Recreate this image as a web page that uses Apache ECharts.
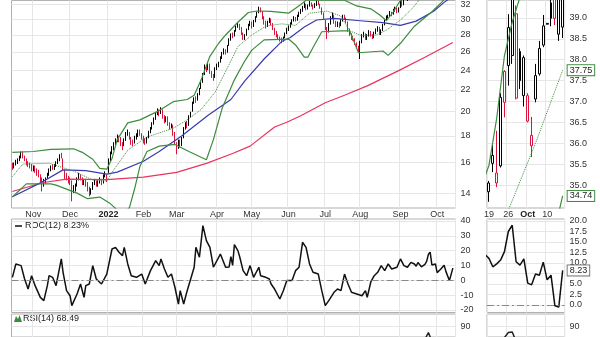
<!DOCTYPE html>
<html><head><meta charset="utf-8">
<script src="https://cdn.jsdelivr.net/npm/echarts@6/dist/echarts.min.js"></script>
<style>html,body{margin:0;padding:0;background:#fff}#c{width:600px;height:337px}</style>
</head><body><div id="c"></div>
<script>
// ---------- trading calendar ----------
const marketHolidays = ['2021-11-25','2021-12-24','2022-01-17','2022-02-21','2022-04-15','2022-05-30','2022-06-20','2022-07-04','2022-09-05'];
function buildDates(){const out=[];let t=Date.UTC(2021,9,14);const end=Date.UTC(2022,9,14);
  while(t<=end){const d=new Date(t);const wd=d.getUTCDay();const s=d.toISOString().slice(0,10);
    if(wd!==0&&wd!==6&&marketHolidays.indexOf(s)<0)out.push(s);t+=86400000;}return out;}
const dates = buildDates();
const monthNames = ['Jan','Feb','Mar','Apr','May','Jun','Jul','Aug','Sep','Oct','Nov','Dec'];

// ---------- price data: [open, close, low, high] ----------
const candles = [
[15.9,15.7,15.5,16.0],[15.7,15.9,15.6,16.0],[15.9,16.1,15.8,16.2],[16.0,16.2,15.9,16.3],[16.2,16.3,16.1,16.5],
[16.6,16.5,16.3,16.8],[16.7,16.4,16.3,16.8],[16.4,16.2,16.1,16.5],[16.1,16.0,15.8,16.3],[15.8,15.9,15.7,16.1],
[15.9,15.8,15.6,16.0],[15.7,15.6,15.4,15.9],[15.5,15.7,15.4,15.8],[15.7,15.5,15.3,15.8],[15.3,15.4,15.1,15.6],
[15.4,15.1,15.0,15.5],[15.0,14.9,14.7,15.2],[14.9,14.6,14.1,15.0],[14.5,14.7,14.4,14.9],[14.7,14.9,14.6,15.0],
[15.0,15.2,14.9,15.3],[15.2,15.5,15.1,15.6],[15.5,15.7,15.4,15.8],[15.8,15.6,15.5,15.9],[15.6,15.8,15.5,15.9],
[15.8,16.0,15.7,16.1],[16.0,16.2,15.9,16.3],[16.2,16.5,16.1,16.6],[16.6,16.4,16.3,16.7],[16.2,15.6,15.5,16.3],
[15.4,15.1,14.9,15.5],[15.2,14.9,14.8,15.3],[15.0,14.8,14.6,15.1],[14.9,14.6,14.5,15.0],[14.7,14.2,13.5,14.8],
[14.2,14.3,14.0,14.5],[14.3,14.4,14.1,14.6],[14.5,14.9,14.4,15.0],[14.9,15.1,14.8,15.3],[15.1,15.0,14.8,15.2],
[14.9,14.7,14.5,15.0],[14.6,14.8,14.5,14.9],[14.8,14.6,14.4,14.9],[14.6,14.3,14.1,14.7],[14.3,14.0,13.8,14.4],
[14.1,14.2,13.9,14.3],[14.3,14.6,14.2,14.7],[14.6,14.7,14.5,14.9],[14.7,14.5,14.4,14.8],[14.5,14.7,14.4,14.8],
[14.7,14.8,14.6,15.0],[14.8,14.6,14.5,14.9],[14.7,15.1,14.6,15.2],[15.1,15.3,15.0,15.4],[14.9,15.0,14.7,15.2],
[15.4,16.2,15.3,16.3],[16.2,16.7,16.1,16.8],[16.8,17.0,16.6,17.2],[17.0,17.3,16.9,17.5],[17.3,17.6,17.2,17.8],
[17.7,17.9,17.5,18.1],[17.9,17.7,17.5,18.0],[17.8,17.4,17.2,17.9],[17.3,17.2,16.9,17.5],[17.3,17.6,17.2,17.8],
[17.7,18.2,17.6,18.3],[18.2,18.3,18.0,18.5],[18.2,17.8,17.7,18.3],[17.8,17.5,17.3,17.9],[17.5,17.4,17.2,17.7],
[17.5,17.9,17.4,18.0],[17.9,18.0,17.7,18.2],[18.0,18.3,17.9,18.5],[18.4,18.2,18.0,18.5],[18.1,17.9,17.7,18.2],
[17.9,17.6,17.4,18.0],[17.7,17.5,17.3,17.8],[17.5,17.8,17.4,17.9],[17.9,18.3,17.8,18.4],[18.3,18.6,18.2,18.7],
[18.7,19.0,18.5,19.1],[19.0,19.4,18.9,19.5],[19.4,19.8,19.3,19.9],[19.8,20.1,19.7,20.3],[20.1,19.8,19.6,20.2],
[19.9,20.2,19.8,20.4],[20.1,19.6,19.4,20.2],[19.6,19.2,19.0,19.7],[19.2,19.5,19.1,19.6],[19.5,19.0,18.8,19.6],
[19.0,18.7,18.5,19.1],[18.7,18.9,18.6,19.0],[18.8,18.2,18.0,18.9],[18.2,17.5,17.3,18.3],[17.4,17.0,16.6,17.5],
[17.1,17.6,17.0,17.7],[17.5,17.3,17.1,17.7],[17.3,17.8,17.2,17.9],[17.9,18.6,17.8,18.7],[18.6,19.0,18.5,19.1],
[19.1,18.8,18.6,19.2],[18.9,19.6,18.8,19.7],[19.6,19.9,19.5,20.0],[20.1,20.8,20.0,20.9],[20.8,21.2,20.7,21.3],
[21.2,21.0,20.8,21.4],[21.1,21.6,21.0,21.7],[21.6,22.0,21.5,22.2],[22.2,22.8,22.1,22.9],[22.8,23.6,22.7,23.7],
[23.6,24.3,23.5,24.6],[24.4,24.0,23.8,24.5],[24.1,24.5,24.0,24.9],[24.6,23.8,23.6,24.7],[23.8,23.4,23.2,23.9],
[23.5,23.1,22.9,23.6],[23.3,24.2,23.2,24.3],[24.2,24.5,24.0,24.7],[24.5,24.8,24.3,24.9],[24.9,25.3,24.8,25.5],
[25.3,25.8,25.2,26.0],[25.9,26.2,25.7,26.4],[26.2,25.9,25.7,26.3],[26.0,26.7,25.9,26.8],[26.8,27.4,26.7,27.6],
[27.4,28.0,27.3,28.2],[28.1,27.8,27.6,28.3],[27.9,28.5,27.8,28.6],[28.5,29.0,28.4,29.2],[29.0,29.3,28.9,29.6],
[29.3,28.8,28.6,29.4],[28.9,28.2,28.0,29.0],[28.2,27.6,27.4,28.3],[27.7,27.9,27.4,28.1],[28.0,28.7,27.9,28.8],
[28.7,29.3,28.6,29.4],[29.3,29.6,29.1,29.8],[29.6,29.0,28.8,29.7],[29.1,29.8,29.0,29.9],[29.8,30.2,29.6,30.4],
[30.3,30.8,30.2,31.0],[30.9,31.4,30.8,31.7],[31.4,31.1,30.9,31.6],[31.0,30.2,30.0,31.1],[30.3,29.5,29.3,30.4],
[29.6,29.0,28.8,29.8],[29.1,29.6,29.0,29.8],[29.7,30.0,29.5,30.2],[30.0,29.4,29.2,30.1],[29.4,28.8,28.6,29.5],
[28.8,28.2,28.0,28.9],[28.3,27.9,27.7,28.5],[28.0,27.6,27.4,28.1],[27.6,27.4,27.2,27.8],[27.5,27.2,27.0,27.7],
[27.3,27.6,27.2,27.8],[27.7,28.2,27.6,28.3],[28.2,28.7,28.1,28.9],[28.7,29.0,28.5,29.2],[29.0,29.4,28.9,29.6],
[29.4,29.8,29.3,30.0],[29.8,30.2,29.7,30.4],[30.2,29.9,29.7,30.3],[29.9,30.4,29.8,30.6],[30.5,30.8,30.3,31.0],
[30.9,31.2,30.7,31.4],[31.2,31.6,31.0,31.8],[31.6,32.0,31.5,32.3],[32.0,31.4,31.2,32.1],[31.4,31.8,31.3,32.0],
[31.8,32.2,31.7,32.5],[32.2,31.9,31.7,32.3],[31.9,31.5,31.3,32.0],[31.6,32.0,31.5,32.2],[32.0,32.3,31.8,32.6],
[32.3,32.1,31.9,32.5],[32.0,31.6,31.4,32.1],[31.5,30.8,30.6,31.6],[30.8,30.2,30.0,30.9],[29.8,28.8,28.6,29.9],
[28.8,28.4,27.5,29.0],[28.5,29.4,28.3,29.5],[29.4,30.2,29.3,30.4],[30.2,30.6,30.0,30.9],[30.5,29.6,29.4,30.6],
[29.6,29.2,29.0,29.8],[29.2,29.5,29.0,29.7],[29.5,29.1,28.9,29.6],[29.2,29.8,29.1,30.0],[29.8,30.4,29.7,30.6],
[30.4,30.1,29.9,30.6],[30.1,29.7,29.5,30.2],[29.6,28.6,28.4,29.7],[28.6,28.1,27.9,28.8],[28.1,27.6,27.4,28.2],
[27.7,27.5,27.3,27.9],[27.5,27.0,26.8,27.6],[27.0,26.6,26.4,27.1],[26.6,26.1,25.9,26.7],[25.9,27.2,25.2,27.3],
[27.2,27.9,27.0,28.1],[27.9,28.2,27.7,28.4],[28.1,27.6,27.4,28.2],[27.6,27.9,27.4,28.1],[27.9,28.4,27.8,28.6],
[28.4,28.0,27.8,28.5],[28.0,27.7,27.5,28.1],[27.7,28.3,27.6,28.4],[28.3,28.6,28.1,28.8],[28.6,28.9,28.4,29.1],
[28.9,28.2,28.0,29.0],[28.2,28.5,28.0,28.7],[28.6,29.3,28.5,29.4],[29.3,29.9,29.2,30.0],[29.9,30.3,29.8,30.5],
[30.3,30.4,30.1,30.6],[30.4,30.9,30.3,31.1],[30.9,30.6,30.4,31.0],[30.7,31.2,30.6,31.4],[31.2,31.5,31.0,31.7],
[31.5,31.0,30.8,31.6],[31.1,31.4,30.9,31.6],[31.6,32.7,31.5,32.9],[32.6,31.9,31.7,32.7],[32.0,33.5,31.9,33.6],
[33.4,32.8,32.6,33.6],[32.9,33.0,32.5,33.3],[33.0,33.3,32.8,33.5],[33.3,33.6,33.1,33.8],[33.6,34.2,33.5,34.4],
[34.2,34.3,34.0,34.6],[34.3,34.7,34.1,34.9],[34.8,34.5,34.3,35.0],
[35.05,34.84,34.6,35.1],[35.52,35.71,35.31,36.0],[35.29,35.05,34.95,36.3],[35.46,37.10,35.42,37.2],[37.72,36.98,36.62,37.75],
[37.86,38.77,37.38,39.09],[38.1,39.9,37.9,40.1],[39.1,37.08,37.05,39.3],[38.2,37.5,37.3,38.27],[37.14,38.05,36.88,38.1],
[37.14,36.53,36.5,37.2],[35.94,36.19,35.67,36.63],[37.06,37.62,36.98,37.9],[37.66,38.27,37.62,38.45],[38.35,38.81,38.3,39.07],
[38.85,38.87,38.84,38.88],[38.99,39.36,38.8,39.5],[39.6,38.99,38.83,39.8],[38.61,39.7,38.45,39.9],[38.78,40.13,38.52,40.3]
];

// ---------- overlay lines: [dayIndex, value] ----------
const sma200 = [[0,14.1],[17,14.65],[31,14.88],[54,14.85],[75,15.02],[94,15.33],[111,15.95],[126,16.65],[136,17.2],[150,18.7],[157,19.1],[165,19.65],[179,20.8],[190,21.5],[203,22.4],[221,23.95],[236,25.4],[252,27.1]];
const sma50 = [[0,13.78],[16,14.64],[29,15.5],[42,15.45],[54,15.22],[60,15.35],[75,16.1],[84,16.8],[97,18.0],[112,19.7],[125,21.1],[133,22.9],[144,25.2],[154,27.2],[159,27.7],[167,29.0],[174,29.9],[184,30.1],[199,29.8],[212,29.55],[222,29.2],[231,29.75],[241,31.06],[247,32.3],[252,33.2]];
const bbMiddle = [[0,15.05],[6,15.9],[21,15.96],[35,15.42],[46,14.83],[54,14.77],[58,15.5],[66,16.9],[77,17.9],[92,18.6],[100,19.3],[108,20.2],[116,21.8],[124,24.6],[129,26.6],[137,28.0],[145,29.1],[154,29.4],[162,29.2],[170,30.8],[180,31.1],[188,30.4],[193,28.5],[200,27.9],[208,28.0],[214,28.6],[222,29.9],[229,31.5],[238,34.4],[245,36.0],[252,37.75]];
const bbUpper = [[0,16.74],[12,16.8],[22,16.96],[35,17.0],[40,16.74],[46,16.24],[50,15.6],[54,15.55],[57,16.3],[60,17.7],[66,19.05],[73,19.3],[84,20.1],[92,20.9],[100,21.1],[104,21.5],[108,23.0],[113,25.5],[118,27.0],[122,28.0],[129,29.6],[135,30.9],[140,31.1],[148,31.06],[158,30.8],[165,32.0],[168,32.6],[190,32.6],[197,31.8],[205,31.4],[210,30.6],[214,29.8],[218,31.0],[222,32.6],[228,34.2],[233,35.47],[235,36.6],[237,38.1],[239,38.9],[241,39.5],[246,40.5],[252,41.0]];
const bbLower = [[0,13.76],[8,14.58],[22,14.58],[25,14.5],[37,14.0],[43,13.66],[50,13.76],[56,13.37],[60,13.0],[64,12.8],[67,13.15],[70,14.3],[73,15.75],[77,16.8],[84,17.2],[93,17.33],[101,16.8],[111,16.2],[115,17.7],[120,20.3],[127,23.0],[133,25.0],[137,26.2],[144,27.4],[158,27.5],[162,26.8],[167,25.4],[169,25.4],[172,26.5],[177,28.4],[188,28.5],[193,28.5],[198,25.9],[212,26.1],[215,25.6],[222,27.0],[230,29.1],[240,31.0],[246,32.4],[252,34.74]];

// ---------- indicators ----------
const roc12 = [[0,2.0],[2,11],[5,9.9],[7,0.9],[9,-5.9],[11,3.1],[13,-3.6],[16,-11.5],[18,-13.7],[20,-3.6],[21,3.1],[23,2],[25,-3.6],[28,14.4],[29,5.4],[31,-7],[33,-10.4],[34,-17.1],[37,-9.2],[39,-2.5],[41,-11.5],[42,-3.6],[44,-2.5],[46,9.9],[48,0.9],[51,-2.5],[54,4.2],[57,21.1],[59,22.2],[61,18.9],[63,16.6],[64,22.2],[66,11],[68,3.1],[71,2],[74,4.2],[76,-2.5],[79,6.5],[82,13.2],[84,9.9],[85,14.4],[87,7.6],[89,2],[91,4.2],[93,-4.7],[95,-16],[96,-7],[98,-16],[100,-7],[102,0.9],[104,8.8],[105,22.2],[107,15.5],[109,36.8],[111,26.7],[113,22.2],[115,8.8],[119,17.7],[122,8.8],[124,9],[125,16],[126,10],[127,24],[129,20],[130,16],[132,6.5],[134,3.1],[136,9.9],[138,2.0],[141,8.8],[142,3.1],[145,2.0],[147,0.9],[148,-2.5],[150,-5.9],[153,-12.6],[155,-7.0],[157,-0.2],[160,-0.2],[162,6.5],[164,8.8],[166,25.6],[168,22.2],[170,11.0],[172,5.4],[175,4.2],[177,-7.0],[179,-17.1],[181,-13.7],[184,-8.1],[186,-5.9],[188,-7.0],[190,4.2],[192,-2.5],[194,-8.1],[197,-9.2],[200,-10.4],[202,-7.0],[203,-11.5],[205,-1.3],[207,3.1],[209,5.4],[211,9.9],[213,6.5],[215,11.0],[217,7.6],[220,8.8],[222,14.4],[224,9.9],[226,8.8],[228,12.1],[230,11.0],[231,9.5],[232,12.0],
[233,11.1],[234,9.1],[235,9.8],[236,10.7],[237,12.7],[238,17.5],[239,19.0],[240,10.3],[241,9.5],[242,11.0],[243,5.2],[244,4.8],[245,7.4],[246,7.1],[247,10.2],[248,6.0],[249,7.1],[250,-0.2],[251,-0.5],[252,8.23]];
const rsi14 = [[0,55],[5,62],[11,48],[17,35],[22,55],[28,62],[34,38],[38,47],[44,36],[50,44],[54,47],[58,70],[62,64],[66,68],[70,55],[74,56],[78,60],[83,67],[87,56],[94,42],[98,57],[104,68],[110,76],[115,60],[120,70],[128,75],[132,62],[140,72],[145,58],[154,46],[160,60],[166,70],[172,66],[176,60],[180,44],[183,56],[188,58],[194,42],[198,38],[204,52],[210,54],[214,62],[218,66],[222,69],[226,72],[230,74],[234,75],[236,76],[237,78],[238,83.5],[239,84],[240,74],[242,73],[244,63],[246,70],[248,74],[250,72],[251,73],[252,68.49]];

// ---------- tick labels ----------
const priceTicks = [14,16,18,20,22,24,26,28,30,32];
const zoomPriceTicks = [35,35.5,36,36.5,37,37.5,38,38.5,39];
const rocTicks = [-20,-10,0,10,20,30,40];
const zoomRocTicks = [0,2.5,5,7.5,10,12.5,15,17.5,20];
const rsiTicks = [90];

// ---------- styling ----------
const FONT = 'Liberation Sans';
const RED = '#dc143c', UPC = '#000';
const GREEN = '#3d8b3d', BLUE = '#3a3ab0', PINK = '#e8335f';
const GRIDC = '#e6e6e6', BORDER = '#b0b0b0';
const categories = dates.concat(['']);

function styledCandles(){
  return candles.map((r,i)=>{
    const prevClose = i>0 ? candles[i-1][1] : r[0];
    const col = r[1] >= prevClose ? UPC : RED;
    return {value:r, itemStyle:{color:'#fff', borderColor:col, color0:col, borderColor0:col}};
  });
}
const cData = styledCandles();
function monthStart(i){ if(i<=0||i>=dates.length) return false; return dates[i].slice(5,7)!==dates[i-1].slice(5,7); }
function weekStart(i){ if(i<=0||i>=dates.length) return false;
  const a=new Date(dates[i]+'T00:00:00Z').getUTCDay(), b=new Date(dates[i-1]+'T00:00:00Z').getUTCDay(); return a<b; }

const L = 11.5, W = 444, RL = 487, RW = 77.6;
const gMain = {top:-1, height:209}, gRoc = {top:219, height:93.5}, gRsi = {top:314, height:24};
const grids = [
  {left:L, width:W, ...gMain}, {left:L, width:W, ...gRoc}, {left:L, width:W, ...gRsi},
  {left:RL, width:RW, ...gMain}, {left:RL, width:RW, ...gRoc}, {left:RL, width:RW, ...gRsi}
].map(g=>Object.assign({show:true, borderColor:BORDER, borderWidth:1, backgroundColor:'#fff', containLabel:false}, g));

const labelStyle = {fontFamily:FONT, fontSize:9, color:'#333'};
function xAxisMain(gi, showLabels){
  return {type:'category', gridIndex:gi, data:categories, boundaryGap:true,
    axisLine:{show:false}, axisTick:{show:false},
    axisLabel:Object.assign({show:showLabels, interval:(i)=>monthStart(i), margin:2,
      formatter:(v)=>{ if(!v) return ''; const m=+v.slice(5,7); return m===1?'{b|'+v.slice(0,4)+'}':monthNames[m-1]; },
      rich:{b:{fontWeight:'bold', fontFamily:FONT, fontSize:9, color:'#222'}}}, labelStyle),
    splitLine:{show:true, interval:(i)=>monthStart(i), lineStyle:{color:GRIDC, width:1}}};
}
function xAxisZoom(gi, showLabels){
  return {type:'category', gridIndex:gi, data:categories, boundaryGap:true, min:233, max:252,
    axisLine:{show:false}, axisTick:{show:false},
    axisLabel:Object.assign({show:showLabels, interval:(i)=>weekStart(i), margin:2,
      formatter:(v,i)=>{ if(!v) return ''; const idx=dates.indexOf(v); const m=+v.slice(5,7);
        return monthStart(idx)?'{b|'+monthNames[m-1]+'}':String(+v.slice(8,10)); },
      rich:{b:{fontWeight:'bold', fontFamily:FONT, fontSize:9, color:'#222'}}}, labelStyle),
    splitLine:{show:true, interval:(i)=>weekStart(i), lineStyle:{color:GRIDC, width:1}}};
}
function yAxis(gi, type, min, max, ticks, fmt){
  return {type:type, gridIndex:gi, position:'right', min:min, max:max, scale:true,
    axisLine:{show:false}, axisTick:{show:false, customValues:ticks},
    axisLabel:Object.assign({customValues:ticks, margin:5, formatter:fmt}, labelStyle),
    splitLine:{show:true, lineStyle:{color:GRIDC, width:1}}};
}
const f0 = v=>String(Math.round(v)), f1 = v=>(+v).toFixed(1);

function lineS(xi, yi, data, color, width, type, extra){
  return Object.assign({type:'line', xAxisIndex:xi, yAxisIndex:yi, data:data, symbol:'none', clip:true, silent:true,
    lineStyle:{color:color, width:width, type:type||'solid'}}, extra||{});
}
const zeroLine = {symbol:'none', silent:true, label:{show:false}, data:[{yAxis:0}],
  lineStyle:{color:'#888', width:1, type:[7,3,2,3]}};
function tag(border){ return {show:true, formatter:(p)=>(+p.value[1]).toFixed(2), distance:5,
  fontFamily:FONT, fontSize:9, color:'#222', backgroundColor:'#fff', borderColor:border, borderWidth:1, padding:[1,2,0,2]}; }

const series = [
  // main price panel
  lineS(0,0,sma200,PINK,1.2), lineS(0,0,sma50,BLUE,1.2),
  lineS(0,0,bbUpper,GREEN,1.2), lineS(0,0,bbLower,GREEN,1.2), lineS(0,0,bbMiddle,GREEN,1,'dotted'),
  {type:'candlestick', xAxisIndex:0, yAxisIndex:0, data:cData, barWidth:1.2, clip:true, silent:true, itemStyle:{borderWidth:1}},
  // ROC / RSI main
  lineS(1,1,roc12,'#111',1.5,'solid',{markLine:zeroLine}),
  lineS(2,2,rsi14,'#222',1.5),
  // zoom panel
  lineS(3,3,sma200,PINK,1.2), lineS(3,3,sma50,BLUE,1.2),
  lineS(3,3,bbUpper,GREEN,1.2), lineS(3,3,bbLower,GREEN,1.2,'solid',{endLabel:tag(GREEN)}),
  lineS(3,3,bbMiddle,GREEN,1,'dotted',{endLabel:tag(GREEN)}),
  {type:'candlestick', xAxisIndex:3, yAxisIndex:3, data:cData, barWidth:2.4, clip:true, silent:true, itemStyle:{borderWidth:1}},
  lineS(4,4,roc12,'#111',1.5,'solid',{markLine:zeroLine, endLabel:tag('#777')}),
  lineS(5,5,rsi14,'#222',1.5)
];

const option = {
  animation:false, backgroundColor:'#fff',
  grid:grids,
  xAxis:[xAxisMain(0,true), xAxisMain(1,false), xAxisMain(2,false), xAxisZoom(3,true), xAxisZoom(4,false), xAxisZoom(5,false)],
  yAxis:[
    yAxis(0,'log',13.115,32.57,priceTicks,f0),
    yAxis(1,'value',-21.7,41.3,rocTicks,f0),
    yAxis(2,'value',78.63,103.4,rsiTicks,f0),
    yAxis(3,'value',34.452,39.429,zoomPriceTicks,f1),
    yAxis(4,'value',-1.79,20.48,zoomRocTicks,f1),
    yAxis(5,'value',78.63,103.4,rsiTicks,f0)
  ],
  series:series,
  graphic:[
    {type:'line', shape:{x1:15,y1:226,x2:22,y2:226}, style:{stroke:'#111', lineWidth:1.5}},
    {type:'text', left:25, top:221, style:{text:'ROC(12) 8.23%', fontFamily:FONT, fontSize:9, fill:'#222'}},
    {type:'polygon', shape:{points:[[14,322],[16,316],[18,319],[19.5,315],[22,322]]}, style:{fill:'#3d8b3d'}},
    {type:'text', left:23, top:314, style:{text:'RSI(14) 68.49', fontFamily:FONT, fontSize:9, fill:'#222'}}
  ]
};
const chart = echarts.init(document.getElementById('c'), null, {renderer:'canvas'});
chart.setOption(option);
</script></body></html>
